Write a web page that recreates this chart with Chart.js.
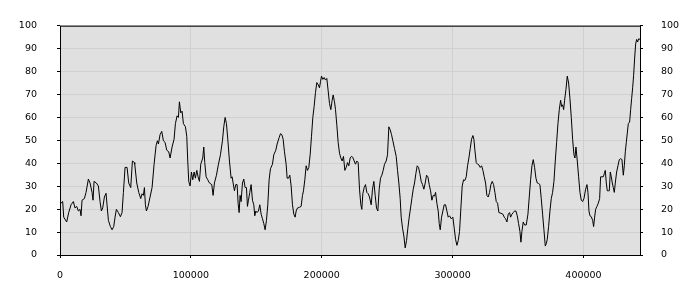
<!DOCTYPE html>
<html>
<head>
<meta charset="utf-8">
<script src="https://cdn.jsdelivr.net/npm/chart.js@4/dist/chart.umd.min.js"></script>
<style>
  body { margin: 0; background: #fff; }
  #chart { display: block; }
</style>
</head>
<body>
<canvas id="chart" width="700" height="300"></canvas>
<script>
// positions along the x axis
const xs = [
  0, 2060, 2830, 5120, 6650, 8430, 10220, 11490, 12770, 14040, 15310, 16080, 16840, 18630, 19900,
  21690, 22960, 24490, 25250, 26020, 27800, 29330, 30600, 31620, 32640, 33920, 35190, 35950, 36980,
  38510, 39780, 41050, 42070, 43090, 44620, 46150, 47420, 48440, 49720, 51250, 52520, 54050, 55330,
  56860, 57110, 58640, 60170, 61690, 62710, 63730, 64500, 65260, 66030, 67300, 68830, 70360, 71890,
  73420, 74440, 75200, 76470, 77750, 79020, 80300, 81570, 83100, 84120, 85650, 87170, 88190, 89470,
  90490, 91250, 92270, 93290, 94310, 95840, 96860, 97620, 98390, 99410, 100430, 101450, 102470,
  103490, 104510, 105530, 106550, 107560, 109090, 109860, 110620, 111640, 112920, 114190, 115980,
  116990, 118010, 119540, 121070, 122600, 124130, 125150, 126170, 127190, 128210, 129480, 130760,
  131520, 132280, 133300, 134320, 135340, 136110, 136870, 137630, 138400, 139420, 140440, 141460,
  142480, 143240, 144010, 145030, 146050, 147070, 148090, 148850, 149610, 150630, 151650, 152670,
  153690, 154710, 155730, 156740, 157760, 158780, 159800, 160820, 162350, 163370, 164900, 165920,
  167450, 168470, 169490, 170510, 171530, 172800, 173570, 174590, 175610, 176620, 177640, 178660,
  179680, 180450, 181470, 183000, 184270, 185290, 186060, 187080, 188090, 189110, 190130, 191150,
  192170, 193190, 194210, 195230, 196250, 197270, 198290, 199050, 199820, 200830, 201850, 202870,
  203890, 204910, 205930, 206950, 207970, 208730, 209750, 210520, 211540, 212560, 213580, 214590,
  215610, 216630, 217650, 218670, 219690, 220710, 221730, 222750, 223770, 224790, 225800, 226820,
  227840, 228860, 229880, 230650, 231410, 232430, 233450, 234470, 235490, 236510, 237780, 238800,
  239820, 240840, 241860, 242880, 243900, 244920, 245940, 246950, 247970, 249250, 250270, 251290,
  252310, 253330, 254350, 255620, 256900, 257910, 258930, 259950, 260720, 261740, 262760, 263780,
  264800, 265820, 266840, 267860, 268880, 269900, 270910, 271930, 272950, 273970, 274990, 276010,
  277030, 278050, 279070, 280090, 281110, 282130, 283150, 284170, 285190, 286210, 286970, 287990,
  289010, 289770, 290540, 291560, 292580, 293590, 294610, 295630, 296650, 297670, 298940, 300220,
  301240, 302260, 303280, 304300, 305320, 306330, 307350, 308370, 309390, 310410, 311430, 312450,
  313470, 314490, 315510, 316280, 317040, 318060, 319080, 320100, 321120, 322140, 323160, 324170,
  325190, 326210, 327230, 328250, 329270, 330290, 331310, 332330, 333350, 334370, 335390, 336910,
  338440, 339460, 340480, 341500, 342520, 343540, 344310, 345330, 346350, 347370, 348390, 349410,
  350420, 351440, 352210, 352970, 353990, 355010, 356280, 357560, 358580, 359600, 360620, 361640,
  362660, 363680, 364700, 365710, 366730, 367750, 368770, 369790, 370810, 371580, 372340, 373360,
  374380, 375400, 376420, 377440, 378460, 379480, 380500, 381520, 382540, 383300, 384070, 384830,
  385600, 386620, 387630, 388650, 389670, 390690, 391710, 392730, 393500, 394260, 395280, 396300,
  397320, 398340, 399360, 400380, 401650, 402670, 403430, 404190, 404960, 405980, 407000, 407760,
  408530, 409290, 410310, 411330, 412350, 413110, 414130, 415150, 415920, 416680, 417450, 418210,
  418970, 419740, 420500, 421270, 422030, 422800, 423560, 424320, 425340, 426360, 427380, 428400,
  429420, 430440, 431210, 431970, 432730, 433500, 434260, 435280, 436050, 436810, 437580, 438340,
  439110, 439870, 440630, 441400, 442160, 443180
];

const values = [
  22.2, 23.3, 16.5, 14.4, 18.5, 21.9, 23.3, 20.5, 21.2, 19.2, 19.9, 17.1, 23.9, 24.6, 27.3,
  33.1, 31.4, 27.3, 23.9, 32.1, 31.4, 30.1, 23.3, 19.2, 20.5, 25.3, 26.9, 21.9, 15.1,
  12.4, 11.0, 12.4, 16.5, 19.9, 18.5, 16.7, 18.5, 27.3, 38.2, 38.2, 31.4, 29.4, 41.0,
  40.3, 39.6, 31.4, 27.3, 24.6, 26.7, 26.0, 29.4, 21.9, 19.2, 21.2, 25.3, 29.4, 39.6,
  47.8, 49.8, 48.4, 52.5, 53.9, 49.8, 49.1, 45.7, 45.0, 42.3, 47.1, 50.5, 57.3, 60.7,
  60.0, 66.8, 62.0, 62.7, 57.3, 55.9, 51.8, 41.0, 32.1, 30.1, 36.2, 32.8, 36.2,
  33.5, 36.9, 34.1, 32.1, 39.6, 42.3, 47.1, 40.3, 34.1, 32.8, 31.4, 30.7,
  26.0, 31.4, 34.8, 39.6, 43.7, 49.8, 55.9, 60.0, 57.3, 50.5, 41.0, 33.5,
  34.1, 31.4, 28.0, 30.7, 30.7, 22.6, 18.5, 26.0, 23.3, 31.4, 33.1, 29.4,
  29.4, 21.2, 23.9, 27.3, 30.7, 23.9, 21.9, 17.1, 19.2, 18.5, 19.2, 21.9,
  17.8, 15.8, 13.7, 11.0, 15.1, 21.9, 32.8, 37.6, 39.6, 43.7, 45.7, 48.4,
  51.2, 52.9, 52.5, 50.5, 45.0, 39.6, 33.5, 33.5, 34.8, 30.1, 21.9, 17.8,
  16.5, 19.2, 20.5, 20.8, 21.2, 26.0, 28.0, 32.8, 38.9, 36.9, 38.2, 43.7,
  51.8, 60.0, 64.8, 70.9, 75.2, 74.3, 72.9, 75.6, 78.0, 76.6, 77.4, 76.3,
  77.0, 71.6, 66.1, 63.4, 67.5, 69.8, 66.8, 63.4, 56.6, 49.1, 44.4, 42.3,
  41.0, 43.0, 36.9, 38.2, 40.3, 38.9, 42.3, 43.0, 42.6, 41.0, 39.6, 41.0,
  40.3, 28.7, 21.9, 19.9, 26.7, 29.4, 30.7, 27.3, 26.7, 25.3, 21.9, 28.7,
  32.1, 26.0, 20.5, 19.2, 28.7, 33.5, 34.8, 36.9, 39.6, 41.0, 43.7, 55.9,
  54.6, 52.5, 49.8, 46.4, 43.0, 36.9, 31.4, 24.6, 16.5, 11.7, 8.3, 3.1,
  6.3, 11.7, 16.5, 20.5, 24.6, 28.7, 31.4, 35.5, 38.9, 38.2, 35.5, 32.1,
  30.7, 28.7, 31.4, 34.8, 34.1, 30.7, 28.0, 23.9, 26.0, 25.7, 27.3, 22.6,
  19.2, 13.7, 11.0, 16.5, 19.2, 21.9, 21.9, 19.2, 16.5, 17.1, 15.8, 16.5,
  11.7, 6.9, 4.2, 6.3, 10.3, 20.5, 30.1, 32.8, 32.5, 34.1, 38.9, 42.3,
  46.4, 50.5, 52.1, 50.5, 45.7, 40.3, 39.6, 39.3, 38.2, 38.9, 36.9, 34.1,
  31.4, 26.0, 25.3, 27.3, 30.7, 32.1, 30.7, 27.3, 23.3, 22.6, 18.5, 18.2,
  17.8, 16.5, 15.8, 14.4, 17.8, 18.5, 16.5, 17.8, 18.5, 19.2, 19.2, 17.1,
  13.7, 10.3, 5.6, 10.3, 14.4, 13.1, 13.1, 17.8, 25.3, 32.8, 38.9, 41.6,
  38.2, 33.5, 31.4, 31.2, 30.7, 24.6, 17.8, 11.0, 3.9, 4.9, 6.9, 12.4,
  19.2, 24.6, 27.3, 32.1, 41.0, 49.1, 57.3, 63.4, 67.5, 64.8, 65.5, 63.4,
  67.5, 72.2, 78.0, 75.0, 68.2, 60.0, 50.5, 43.7, 42.3, 47.1, 41.0, 34.1,
  27.3, 23.9, 23.3, 24.6, 28.7, 30.7, 27.3, 19.2, 17.1, 16.7, 15.1, 12.4,
  16.5, 19.9, 21.2, 22.6, 24.6, 34.1, 34.1, 34.1, 35.5, 36.9, 31.4, 28.0,
  28.0, 28.0, 36.2, 34.1, 31.4, 29.4, 27.3, 31.4, 36.2, 38.9, 41.6, 42.0,
  41.6, 34.8, 38.9, 45.0, 49.1, 53.2, 57.3, 58.0, 63.4, 68.2, 72.9, 78.4,
  85.9, 92.0, 94.0, 92.9, 94.3, 94.0
];

const xTicks = [0, 100000, 200000, 300000, 400000];
const xMin = 0;
const xMax = 443200;
const yMin = 0;
const yMax = 100;
const yStep = 10;

const points = xs.map((x, i) => ({ x: x, y: values[i] }));

Chart.defaults.font.family = "'DejaVu Sans', sans-serif";
Chart.defaults.font.size = 9.5;
Chart.defaults.color = '#000';

// grey plot area with a black frame round it
const plotFrame = {
  id: 'plotFrame',
  beforeDraw(chart) {
    const { ctx, chartArea } = chart;
    ctx.save();
    ctx.fillStyle = '#e0e0e0';
    ctx.fillRect(chartArea.left, chartArea.top,
      chartArea.right - chartArea.left, chartArea.bottom - chartArea.top);
    ctx.restore();
  },
  afterDraw(chart) {
    const { ctx, chartArea } = chart;
    ctx.save();
    ctx.strokeStyle = '#000';
    ctx.lineWidth = 1;
    ctx.strokeRect(chartArea.left + 0.5, chartArea.top + 0.5,
      chartArea.right - chartArea.left, chartArea.bottom - chartArea.top);
    ctx.restore();
  }
};

new Chart(document.getElementById('chart'), {
  type: 'line',
  data: {
    datasets: [{
      data: points,
      borderColor: '#000',
      borderWidth: 1,
      pointRadius: 0,
      tension: 0,
      fill: false
    }]
  },
  options: {
    responsive: false,
    animation: false,
    layout: { padding: { top: 10, left: 0, right: 0, bottom: 0 } },
    plugins: {
      legend: { display: false },
      tooltip: { enabled: false }
    },
    scales: {
      x: {
        type: 'linear',
        min: xMin,
        max: xMax,
        afterFit: (s) => { s.height = 45; },
        afterBuildTicks: (s) => { s.ticks = xTicks.map(v => ({ value: v })); },
        border: { display: false },
        grid: { color: '#d0d0d0', tickColor: '#000', tickLength: 3 },
        ticks: { padding: 12, maxRotation: 0, autoSkip: false,
          callback: (v) => String(v) }
      },
      y: {
        position: 'left',
        min: yMin,
        max: yMax,
        afterFit: (s) => { s.width = 60; },
        border: { display: false },
        grid: { color: '#d0d0d0', tickColor: '#000', tickLength: 3 },
        ticks: { stepSize: yStep, padding: 20 }
      },
      y2: {
        position: 'right',
        min: yMin,
        max: yMax,
        afterFit: (s) => { s.width = 60; },
        border: { display: false },
        grid: { drawOnChartArea: false, tickColor: '#000', tickLength: 3 },
        ticks: { stepSize: yStep, padding: 18 }
      }
    }
  },
  plugins: [plotFrame]
});
</script>
</body>
</html>
